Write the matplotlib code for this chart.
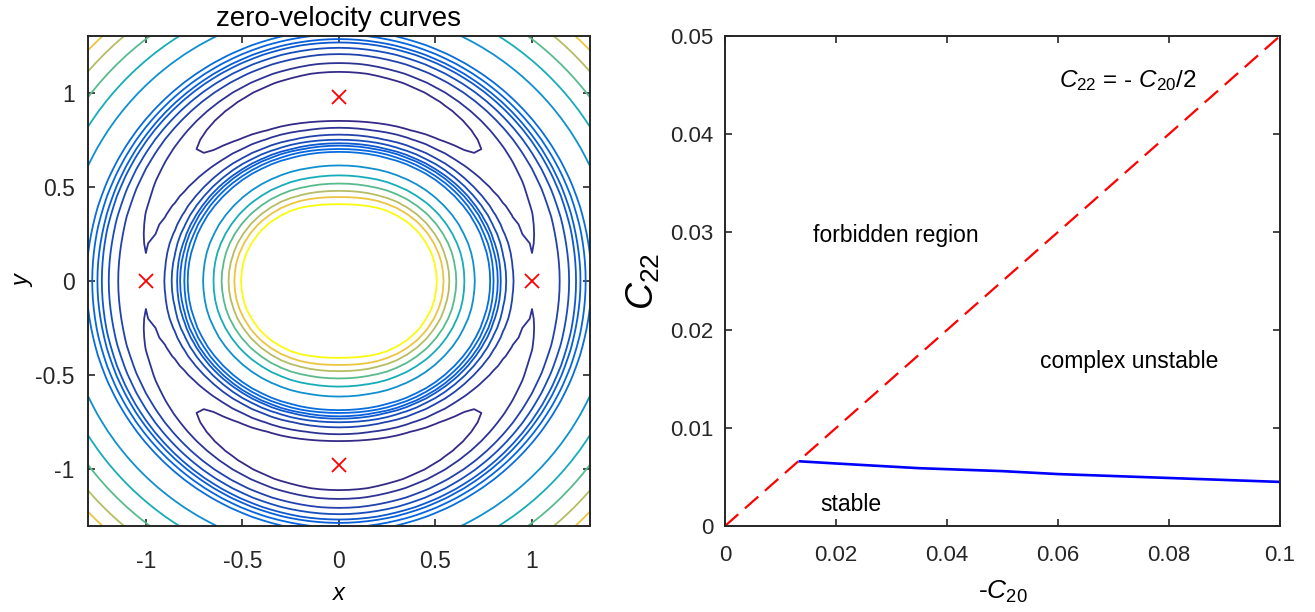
import numpy as np
import matplotlib
matplotlib.use("Agg")
import matplotlib.pyplot as plt
from matplotlib.colors import LinearSegmentedColormap, Normalize

plt.rcParams['font.family'] = ['Liberation Sans', 'DejaVu Sans']
plt.rcParams['mathtext.fontset'] = 'custom'
plt.rcParams['mathtext.rm'] = 'Liberation Sans'
plt.rcParams['mathtext.it'] = 'Liberation Sans:italic'

# --- left panel: rotating second-degree gravity field (normalised units)
omega2 = 1.0425          # rotation rate squared
C20 = -0.024
C22 = 0.0077
grid_step = 0.05
grid_lim = 1.3
# Jacobi-type levels of the zero-velocity curves, lowest to highest
levels = [1.5353, 1.5549, 1.5799, 1.6008, 1.6201, 1.6331, 1.6513,
          1.6714, 1.7806, 1.8872, 1.9963, 2.1128, 2.2243, 2.3787]
# equilibrium points
eq_x = [-1.0, 1.0, 0.0, 0.0]
eq_y = [0.0, 0.0, 0.975, -0.975]

# --- right panel: stability diagram
diag_c20 = [0.0, 0.1]
diag_c22 = [0.0, 0.05]
bound_c20 = [0.0135, 0.02, 0.035, 0.05, 0.06, 0.08, 0.1]
bound_c22 = [0.0066, 0.00638, 0.0059, 0.0056, 0.0053, 0.0049, 0.0045]


def effective_potential(x, y):
    r = np.hypot(x, y)
    with np.errstate(divide="ignore", invalid="ignore"):
        return (omega2 * r**2 / 2 + 1 / r - C20 / (2 * r**3)
                + 3 * C22 * (x**2 - y**2) / r**5)


parula = LinearSegmentedColormap.from_list("parula", [
    "#352a87", "#0363e1", "#1485d4", "#06a7c6", "#38b99e",
    "#92bf73", "#d9ba56", "#fcce2e", "#f9fb0e"])

g = np.arange(-grid_lim, grid_lim + 1e-9, grid_step)
X, Y = np.meshgrid(g, g)
Z = effective_potential(X, Y)
Z[np.hypot(X, Y) < 0.25] = np.nan   # skip the singular core

fig = plt.figure(figsize=(13.15, 6.12), dpi=100)
ax1 = fig.add_axes([0.0669, 0.1405, 0.3817, 0.8007])
ax2 = fig.add_axes([0.5513, 0.1405, 0.4221, 0.8007])

ax1.contour(X, Y, Z, levels=levels, cmap=parula,
            norm=Normalize(min(levels), max(levels)), linewidths=1.3)
ax1.plot(eq_x, eq_y, 'x', color='red', ms=10, mew=1.3)
ax1.set_xlim(-1.3, 1.3)
ax1.set_ylim(-1.3, 1.3)
ax1.set_xticks([-1, -0.5, 0, 0.5, 1], ['-1', '-0.5', '0', '0.5', '1'])
ax1.set_yticks([-1, -0.5, 0, 0.5, 1], ['-1', '-0.5', '0', '0.5', '1'])
ax1.set_title('zero-velocity curves', fontsize=20, pad=7)
ax1.set_xlabel('x', fontstyle='italic', fontsize=17, labelpad=6.5)
ax1.set_ylabel('y', fontstyle='italic', fontsize=17, labelpad=0.5)

ax2.plot(diag_c20, diag_c22, color='red', lw=1.6, dashes=(8, 4))
ax2.plot(bound_c20, bound_c22, color='blue', lw=1.9)
ax2.set_xlim(0, 0.1)
ax2.set_ylim(0, 0.05)
ax2.set_xticks([0, 0.02, 0.04, 0.06, 0.08, 0.1],
               ['0', '0.02', '0.04', '0.06', '0.08', '0.1'])
ax2.set_yticks([0, 0.01, 0.02, 0.03, 0.04, 0.05],
               ['0', '0.01', '0.02', '0.03', '0.04', '0.05'])
ax2.text(0.0158, 0.0296, 'forbidden region', fontsize=16.5, va='center')
ax2.text(0.0568, 0.0168, 'complex unstable', fontsize=16.5, va='center')
ax2.text(0.0171, 0.0022, 'stable', fontsize=16.5, va='center')
ax2.text(0.0601, 0.0455, r'$C_{22}$ = - $C_{20}$/2', fontsize=17.5, va='center')
ax2.set_xlabel(r'-$C_{20}$', fontsize=19, labelpad=9)
ax2.set_ylabel(r'$C_{22}$', fontsize=27, labelpad=6)

for ax, fs, xpad, ypad in ((ax1, 16.5, 17.5, 9.5), (ax2, 16, 14, 8)):
    ax.tick_params(direction='in', top=True, right=True, length=5, width=1.2,
                   labelsize=fs, colors='#262626')
    ax.tick_params(axis='x', pad=xpad)
    ax.tick_params(axis='y', pad=ypad)
    for s in ax.spines.values():
        s.set_linewidth(1.4)
        s.set_color('#262626')

fig.savefig('out.png', dpi=100)
